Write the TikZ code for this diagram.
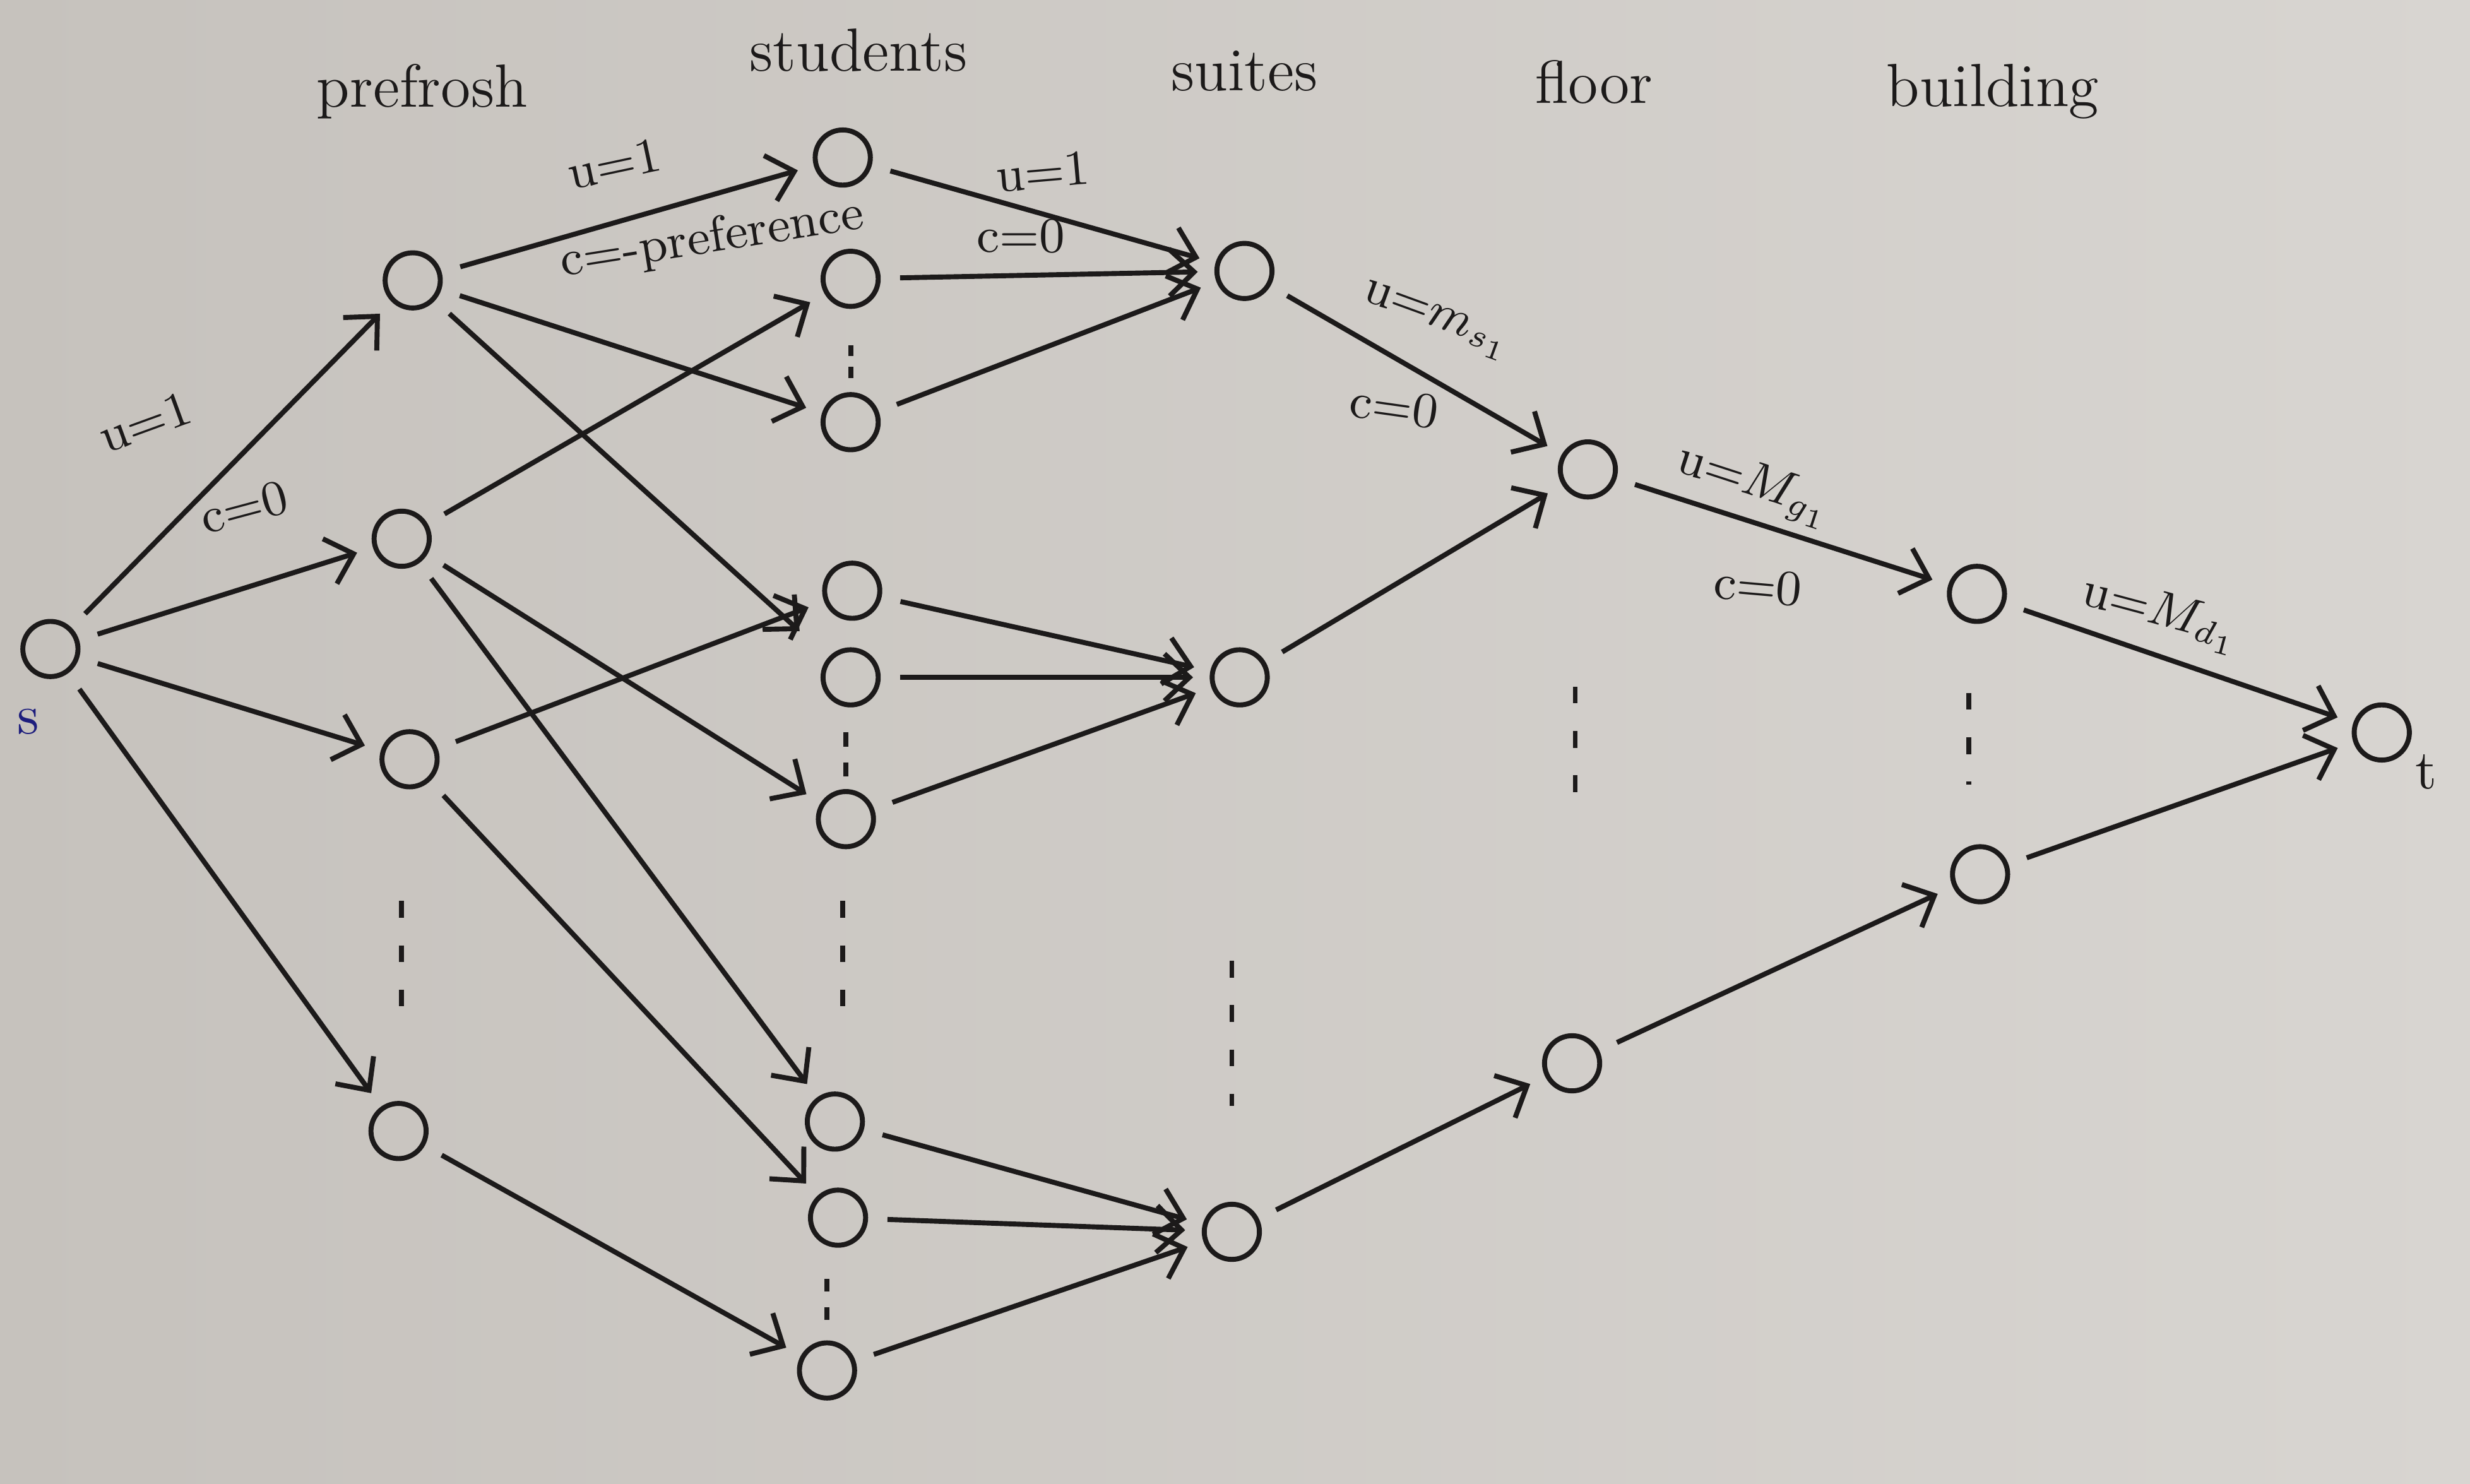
\documentclass[tikz,border=0pt]{standalone}
\usetikzlibrary{arrows.meta}
\begin{document}
\begin{tikzpicture}[x=0.01cm,y=-0.01cm]
\definecolor{paperL}{RGB}{198,194,189}
\definecolor{paperR}{RGB}{216,213,209}
\definecolor{ink}{RGB}{28,26,26}
\definecolor{sblue}{RGB}{30,30,125}
\tikzset{
  vtx/.style={circle, draw=ink, line width=0.9pt, minimum size=0.35cm, inner sep=0pt},
  arc/.style={draw=ink, line width=0.9pt, -{Straight Barb[length=4.5pt,width=8.5pt,line width=0.9pt]},
              shorten >=3pt, shorten <=3.5pt},
  lbl/.style={text=ink, font=\fontsize{9}{10}\selectfont, inner sep=1pt},
  head/.style={text=ink, font=\fontsize{11}{12}\selectfont, inner sep=1pt},
  gaps/.style={draw=ink, line width=0.9pt, dash pattern=on 3pt off 5pt},
  tick/.style={draw=ink, line width=0.9pt},
}
% paper
\shade[left color=paperL, right color=paperR] (0,0) rectangle (1568,942);
\useasboundingbox (0,0) rectangle (1568,942);

% column headings
\node[head] (hpre) at (268,58) {prefrosh};
\node[head] (hstu) at (545,32) {students};
\node[head] (hsui) at (790,45) {suites};
\node[head] (hflo) at (1012,52) {floor};
\node[head] (hbui) at (1265,58) {building};

% source and sink
\node[vtx] (s) at (32,412) {};
\node[text=sblue, font=\fontsize{10}{12}\selectfont] (slab) at (18,458) {s};
\node[vtx] (t) at (1512,465) {};
\node[text=ink, font=\fontsize{10}{12}\selectfont] (tlab) at (1540,490) {t};

% prefrosh
\node[vtx] (p1) at (262,178) {};
\node[vtx] (p2) at (255,342) {};
\node[vtx] (p3) at (260,482) {};
\node[vtx] (p4) at (253,718) {};

% students
\node[vtx] (st1) at (535,100) {};
\node[vtx] (st2) at (540,177) {};
\node[vtx] (st3) at (540,268) {};
\node[vtx] (st4) at (541,375) {};
\node[vtx] (st5) at (540,430) {};
\node[vtx] (st6) at (537,520) {};
\node[vtx] (st7) at (530,712) {};
\node[vtx] (st8) at (532,773) {};
\node[vtx] (st9) at (525,870) {};

% suites
\node[vtx] (su1) at (790,172) {};
\node[vtx] (su2) at (787,430) {};
\node[vtx] (su3) at (782,782) {};

% floors
\node[vtx] (f1) at (1008,298) {};
\node[vtx] (f2) at (998,675) {};

% buildings
\node[vtx] (b1) at (1255,377) {};
\node[vtx] (b2) at (1257,555) {};

% elided nodes: long gaps between groups
\draw[gaps] (255,572) -- (255,645);
\draw[gaps] (535,572) -- (535,645);
\draw[gaps] (782,610) -- (782,702);
\draw[gaps] (1000,436) -- (1000,508);
\draw[gaps] (1250,440) -- (1250,498);
% short gaps inside a group (two ticks)
\draw[tick] (540,219) -- (540,226);  \draw[tick] (540,233) -- (540,240);
\draw[tick] (537,465) -- (537,474);  \draw[tick] (537,484) -- (537,493);
\draw[tick] (525,812) -- (525,820);  \draw[tick] (525,830) -- (525,838);

% source to prefrosh
\draw[arc] (s) -- (p1);
\draw[arc] (s) -- (p2);
\draw[arc] (s) -- (p3);
\draw[arc] (s) -- (p4);

% prefrosh to students
\draw[arc] (p1) -- (st1);
\draw[arc] (p1) -- (st3);
\draw[arc, shorten >=7pt] (p1) -- (st5);
\draw[arc] (p2) -- (st2);
\draw[arc] (p2) -- (st6);
\draw[arc] (p2) -- (st7);
\draw[arc] (p3) -- (st4);
\draw[arc] (p3) -- (st8);
\draw[arc] (p4) -- (st9);

% students to suites
\draw[arc] (st1) -- (su1);
\draw[arc] (st2) -- (su1);
\draw[arc] (st3) -- (su1);
\draw[arc] (st4) -- (su2);
\draw[arc] (st5) -- (su2);
\draw[arc] (st6) -- (su2);
\draw[arc] (st7) -- (su3);
\draw[arc] (st8) -- (su3);
\draw[arc] (st9) -- (su3);

% suites to floors
\draw[arc] (su1) -- (f1);
\draw[arc] (su2) -- (f1);
\draw[arc] (su3) -- (f2);

% floors to buildings
\draw[arc] (f1) -- (b1);
\draw[arc] (f2) -- (b2);

% buildings to sink
\draw[arc] (b1) -- (t);
\draw[arc] (b2) -- (t);

% capacities and costs
\node[lbl, rotate=20] (l1) at (92,268) {u=1};
\node[lbl, rotate=15] (l2) at (155,322) {c=0};
\node[lbl, rotate=12] (l3) at (390,104) {u=1};
\node[lbl, rotate=9] (l4) at (452,152) {c=-preference};
\node[lbl, rotate=5] (l5) at (662,109) {u=1};
\node[lbl] (l6) at (648,150) {c=0};
\node[lbl, rotate=-20] (l7) at (912,204) {u=$m_{s_1}$};
\node[lbl, rotate=-8] (l8) at (885,258) {c=0};
\node[lbl, rotate=-18] (l9) at (1114,308) {u=$M_{g_1}$};
\node[lbl, rotate=-5] (l10) at (1116,372) {c=0};
\node[lbl, rotate=-15] (l11) at (1372,390) {u=$M_{d_1}$};
\end{tikzpicture}
\end{document}
